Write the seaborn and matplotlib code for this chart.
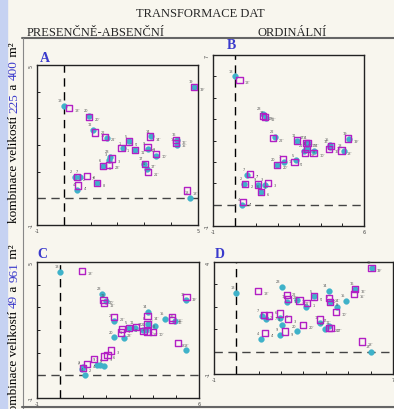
import matplotlib
matplotlib.use("Agg")
import matplotlib.pyplot as plt
import seaborn as sns
import pandas as pd

sns.set_style("ticks")
plt.rcParams['font.family'] = ['Liberation Serif', 'DejaVu Serif']

# cisla stanovist 1..23
ids = list(range(1, 24))

# A: presencne-absencni, 225 a 400 m2
a_dot_x = [2.22, 0.40, 1.69, 0.50, 2.44, 1.46, 0.62, 1.25, 3.12, 3.44, 2.65, 1.10,
           0.00, 3.25, 4.21, 4.22, 3.00, 4.70, 4.85, 0.94, 3.10, 1.60, 1.72]
a_dot_y = [1.87, 0.79, 1.43, 0.32, 2.13, 1.20, 0.79, 0.57, 1.85, 1.59, 1.81, 2.55,
           3.46, 2.32, 2.00, 2.20, 1.30, 0.00, 4.18, 3.10, 1.11, 2.27, 1.55]
a_sq_x = [2.15, 0.50, 1.81, 0.52, 2.44, 1.46, 0.85, 1.25, 3.12, 3.44, 2.65, 1.15,
          0.20, 3.22, 4.19, 4.19, 3.02, 4.60, 4.85, 0.94, 3.15, 1.54, 1.69]
a_sq_y = [1.90, 0.79, 1.49, 0.48, 2.13, 1.20, 0.85, 0.57, 1.91, 1.66, 1.81, 2.47,
          3.39, 2.32, 2.06, 2.20, 1.30, 0.29, 4.18, 3.06, 0.98, 2.29, 1.25]

# B: ordinalni, 225 a 400 m2
b_dot_x = [2.27, 0.43, 1.42, 0.34, 2.84, 1.24, 0.59, 3.37, 1.10, 3.66, 2.90, 1.44,
           0.00, 3.40, 4.44, 4.41, 3.30, 5.05, 5.29, 1.96, 3.22, 1.89, 1.31]
b_dot_y = [2.00, 0.98, 0.94, 0.00, 2.07, 0.59, 1.40, 2.62, 0.94, 2.50, 3.00, 4.06,
           6.00, 2.90, 2.81, 2.68, 2.90, 2.50, 3.09, 1.84, 2.53, 3.17, 4.26]
b_sq_x = [2.24, 0.49, 1.55, 0.39, 2.78, 1.24, 0.71, 3.37, 1.10, 3.66, 2.90, 1.41,
          0.23, 3.40, 4.48, 4.38, 3.32, 4.95, 5.26, 1.96, 3.28, 1.78, 1.31]
b_sq_y = [2.15, 0.98, 1.03, 0.12, 2.00, 0.59, 1.44, 2.62, 0.94, 2.40, 3.00, 4.09,
          5.82, 2.87, 2.73, 2.62, 2.87, 2.53, 3.09, 1.84, 2.40, 3.12, 4.13]

# C: presencne-absencni, 49 a 961 m2
c_dot_x = [2.78, 0.98, 1.72, 1.08, 2.99, 1.91, 0.95, 3.78, 1.60, 4.09, 3.24, 1.98,
           0.00, 3.81, 4.53, 4.96, 3.60, 5.46, 5.46, 2.33, 3.72, 2.33, 1.82]
c_dot_y = [1.64, 0.35, 0.47, 0.00, 2.08, 0.40, 0.30, 2.27, 0.45, 2.18, 2.08, 3.28,
           4.57, 2.78, 2.49, 2.40, 2.00, 1.10, 3.32, 1.67, 2.00, 2.40, 3.59]
c_sq_x = [2.69, 1.00, 2.20, 1.15, 2.99, 2.05, 1.48, 3.78, 1.91, 4.02, 3.28, 1.91,
          0.94, 3.78, 4.82, 4.82, 3.60, 5.08, 5.46, 1.87, 3.78, 2.33, 2.63]
c_sq_y = [2.04, 0.32, 1.10, 0.51, 2.08, 0.91, 0.73, 2.27, 0.83, 1.92, 2.14, 3.20,
          4.60, 2.62, 2.55, 2.45, 1.96, 1.42, 3.44, 3.32, 1.93, 2.59, 1.89]

# D: ordinalni, 49 a 961 m2
d_dot_x = [3.12, 1.31, 2.06, 1.10, 3.48, 1.93, 1.13, 4.19, 1.96, 4.49, 3.75, 2.28,
           0.00, 4.12, 4.90, 5.31, 4.12, 6.01, 6.06, 2.73, 3.97, 2.73, 2.03]
d_dot_y = [1.99, 1.46, 1.19, 0.57, 2.46, 1.51, 1.58, 2.21, 0.75, 1.99, 1.28, 2.21,
           2.63, 2.70, 2.25, 2.78, 1.13, 0.00, 3.75, 0.90, 1.01, 2.30, 2.88]
d_sq_x = [3.15, 1.24, 2.30, 1.28, 3.48, 1.96, 1.46, 4.19, 2.19, 4.46, 3.75, 2.30,
          0.96, 4.15, 5.27, 5.31, 4.22, 5.60, 6.04, 2.97, 4.15, 2.82, 2.28]
d_sq_y = [2.16, 1.64, 1.46, 0.82, 2.46, 1.70, 1.61, 2.21, 0.90, 1.76, 1.43, 2.34,
          2.70, 2.40, 2.58, 2.78, 1.04, 0.45, 3.72, 1.19, 1.06, 2.28, 2.54]

panels = [
    ("A", a_dot_x, a_dot_y, a_sq_x, a_sq_y, (-1, 5), (-1, 5), [0.0939, 0.449, 0.4086, 0.390]),
    ("B", b_dot_x, b_dot_y, b_sq_x, b_sq_y, (-1, 6), (-1, 7), [0.5406, 0.4463, 0.3834, 0.4171]),
    ("C", c_dot_x, c_dot_y, c_sq_x, c_sq_y, (-1, 6), (-1, 5), [0.0939, 0.0268, 0.4111, 0.3317]),
    ("D", d_dot_x, d_dot_y, d_sq_x, d_sq_y, (-1, 7), (-1, 4), [0.5431, 0.0854, 0.4544, 0.2732]),
]
letter_pos = {"A": (0.1015, 0.849), "B": (0.576, 0.881), "C": (0.094, 0.371), "D": (0.546, 0.371)}

cyan = "#3fb2c9"
mag = "#b21fc4"
blue = "#3a3acc"

fig = plt.figure(figsize=(3.94, 4.10), dpi=100)
fig.patch.set_facecolor("#f8f6ee")
fig.patches.append(plt.Rectangle((0, 0), 0.019, 1, transform=fig.transFigure,
                                 color="#c6d2f2", zorder=0))

for name, dx, dy, sx, sy, xl, yl, pos in panels:
    ax = fig.add_axes(pos)
    ax.set_facecolor("#f8f6ee")
    df = pd.DataFrame({"id": ids, "dx": dx, "dy": dy, "sx": sx, "sy": sy})
    ax.axvline(0, color="black", ls=(0, (6, 4)), lw=1, zorder=1)
    ax.axhline(0, color="#444444", ls=(0, (6, 4)), lw=1, zorder=1)
    sns.scatterplot(data=df, x="dx", y="dy", ax=ax, color=cyan, s=17,
                    edgecolor=cyan, linewidth=0.3, zorder=3)
    sns.scatterplot(data=df, x="sx", y="sy", ax=ax, marker="s", s=20,
                    facecolors="none", edgecolor=mag, linewidth=1.0, zorder=4)
    for _, r in df.iterrows():
        ax.annotate(str(int(r.id)), (r.dx, r.dy), xytext=(-2.5, 3.5), textcoords="offset points",
                    fontsize=2.5, color="#555555", family="DejaVu Sans", ha="center")
        ax.annotate(f"{int(r.id)}'", (r.sx, r.sy), xytext=(4, -1.5), textcoords="offset points",
                    fontsize=2.5, color="#555555", family="DejaVu Sans", ha="left", va="center")
    ax.set_xlim(*xl)
    ax.set_ylim(*yl)
    xt = list(range(xl[0], xl[1] + 1))
    yt = list(range(yl[0], yl[1] + 1))
    ax.set_xticks(xt)
    ax.set_yticks(yt)
    ax.set_xticklabels([str(v) if v in xl else "" for v in xt], fontsize=3.5, family="DejaVu Sans")
    ax.set_yticklabels([str(v) if v in yl else "" for v in yt], fontsize=3.5, rotation=90,
                       va="center", family="DejaVu Sans")
    ax.tick_params(direction="in", length=2.5, width=0.7, pad=2.5, colors="#222222",
                   labelcolor="#444444")
    ax.set_xlabel("")
    ax.set_ylabel("")
    for sp in ax.spines.values():
        sp.set_linewidth(1.0)
        sp.set_color("#222222")
    lx, ly = letter_pos[name]
    fig.text(lx, ly, name, color=blue, fontsize=10, fontweight="bold", va="baseline")

fig.text(0.508, 0.9585, "TRANSFORMACE DAT", fontsize=9, ha="center", va="baseline")
fig.text(0.068, 0.911, "PRESENČNĚ-ABSENČNÍ", fontsize=9, ha="left", va="baseline")
fig.text(0.742, 0.911, "ORDINÁLNÍ", fontsize=9, ha="center", va="baseline")
fig.add_artist(plt.Line2D([0.056, 1], [0.905, 0.905], color="#666666", lw=1.5))
fig.add_artist(plt.Line2D([0.058, 0.058], [0.905, 0], color="#888888", lw=0.8))
fig.add_artist(plt.Line2D([0.056, 1], [0.004, 0.004], color="#666666", lw=1.5))


def ylabel(y0, parts):
    r = fig.canvas.get_renderer()
    y = y0
    for txt, col in parts:
        t = fig.text(0.036, y, txt, color=col, fontsize=9.5, rotation=90, ha="center", va="bottom")
        bb = t.get_window_extent(renderer=r)
        y += bb.height / fig.bbox.height


ylabel(0.456, [("kombinace velikostí ", "black"), ("225", blue), (" a ", "black"),
               ("400", blue), (" m²", "black")])
ylabel(-0.02, [("kombinace velikostí ", "black"), ("49", blue), (" a ", "black"),
               ("961", blue), (" m²", "black")])

fig.savefig("out.png", dpi=100, facecolor=fig.get_facecolor())
